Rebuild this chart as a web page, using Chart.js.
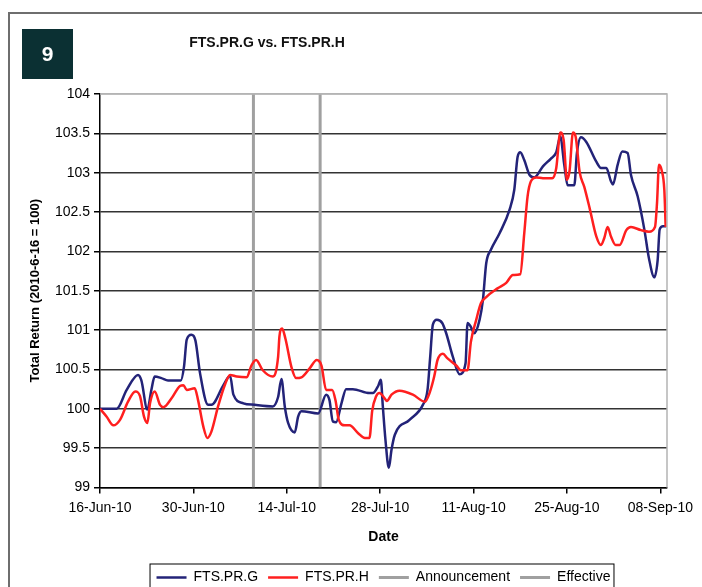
<!DOCTYPE html>
<html lang="en">
<head>
    <meta charset="UTF-8">
    <title>FTS.PR.G vs. FTS.PR.H</title>
    <style>
        * {
            margin: 0;
            padding: 0;
            box-sizing: border-box;
        }

        html, body {
            width: 702px;
            height: 587px;
            overflow: hidden;
            background: #ffffff;
        }

        .wrapper {
            position: relative;
            width: 702px;
            height: 600px;
        }
    </style>
</head>
<body>
    <div class="wrapper">
        <canvas id="chart" width="702" height="600"></canvas>
    </div>
    <script src="https://cdn.jsdelivr.net/npm/chart.js@4.4.1/dist/chart.umd.min.js"></script>
    <script>
        // x values are days since 16-Jun-10
        const startDate = new Date(2010, 5, 16);
        const monthNames = ["Jan", "Feb", "Mar", "Apr", "May", "Jun", "Jul", "Aug", "Sep", "Oct", "Nov", "Dec"];

        const gDays = [0, 2.5, 4.0, 5.7, 6.2, 7.1, 7.7, 8.2, 9.2, 10.2, 12.1, 12.6, 13.0, 13.7, 14.3, 15.0, 16.2, 16.7,
            18.5, 19.5, 20.0, 21.5, 23.2, 25.9, 26.7, 27.2, 27.7, 28.2, 29.2, 29.7, 30.2, 32.7, 33.9, 34.4, 34.9, 35.4,
            36.2, 36.9, 37.9, 40.4, 40.9, 41.7, 42.1, 42.4, 42.8, 43.3, 43.7, 44.2, 46.4, 48.4, 49.1, 49.5, 49.9, 50.5,
            51.3, 51.9, 52.9, 53.9, 54.8, 55.1, 55.6, 56.1, 56.9, 57.4, 57.9, 58.6, 59.9, 61.4, 62.1, 62.6, 63.0, 63.6,
            64.4, 65.1, 66.4, 67.6, 68.4, 69.0, 69.6, 70.1, 71.1, 71.5, 72.1, 72.9, 74.4, 75.1, 75.9, 76.6, 76.9, 77.6,
            78.3, 79.1, 79.6, 80.6, 81.6, 82.3, 83.1, 83.6, 83.9, 84.4, 84.9];
        const gReturns = [100.0, 100.0, 100.24, 100.43, 100.36, 99.99, 100.24, 100.41, 100.39, 100.36, 100.36, 100.54,
            100.88, 100.94, 100.87, 100.45, 100.05, 100.05, 100.30, 100.42, 100.18, 100.07, 100.05, 100.03, 100.15,
            100.38, 100.03, 99.82, 99.70, 99.90, 99.97, 99.94, 100.18, 100.11, 99.84, 99.83, 100.07, 100.25, 100.25,
            100.20, 100.20, 100.29, 100.37, 100.03, 99.60, 99.25, 99.48, 99.67, 99.86, 100.05, 100.24, 100.66, 101.07,
            101.13, 101.09, 100.96, 100.66, 100.44, 100.58, 101.09, 101.04, 100.96, 101.13, 101.38, 101.85, 102.02,
            102.23, 102.53, 102.78, 103.20, 103.26, 103.16, 102.97, 102.94, 103.08, 103.18, 103.26, 103.46, 103.10,
            102.84, 102.84, 103.25, 103.45, 103.39, 103.14, 103.06, 103.06, 102.89, 102.85, 103.10, 103.27, 103.25,
            102.97, 102.70, 102.28, 101.91, 101.67, 101.89, 102.28, 102.32, 102.32];

        const hDays = [0, 1.0, 2.0, 3.0, 4.2, 5.3, 6.0, 6.6, 7.1, 7.5, 8.2, 9.0, 9.5, 10.7, 12.0, 12.5, 13.0, 14.2, 14.7,
            15.5, 16.1, 16.7, 17.7, 18.7, 19.5, 20.5, 22.0, 22.7, 23.4, 24.4, 25.9, 26.7, 26.9, 27.3, 27.8, 28.7, 29.4,
            30.2, 31.4, 32.5, 33.2, 33.9, 34.8, 35.3, 35.8, 36.7, 37.4, 38.7, 39.7, 40.4, 40.8, 41.4, 41.9, 42.7, 43.0,
            43.7, 44.9, 46.9, 48.7, 49.4, 50.1, 50.6, 51.4, 52.1, 53.4, 54.1, 55.1, 55.6, 56.4, 57.1, 57.9, 59.6, 60.9,
            61.9, 63.0, 63.6, 64.1, 64.6, 65.4, 66.4, 67.8, 68.4, 69.0, 69.5, 70.0, 70.4, 70.9, 71.3, 71.9, 72.6, 73.4,
            74.4, 75.1, 75.6, 76.1, 76.6, 77.3, 77.9, 78.9, 79.6, 81.1, 82.3, 83.2, 83.5, 83.8, 84.2, 84.6, 84.8];
        const hReturns = [100.0, 99.90, 99.79, 99.86, 100.09, 100.22, 100.16, 99.90, 99.82, 100.07, 100.22, 100.05,
            100.02, 100.13, 100.29, 100.30, 100.24, 100.26, 100.11, 99.77, 99.63, 99.71, 100.03, 100.30, 100.43, 100.41,
            100.40, 100.55, 100.62, 100.49, 100.41, 100.66, 100.92, 101.02, 100.89, 100.53, 100.39, 100.40, 100.51,
            100.62, 100.55, 100.24, 100.24, 100.11, 99.86, 99.79, 99.79, 99.69, 99.63, 99.63, 99.97, 100.16, 100.20,
            100.13, 100.10, 100.18, 100.23, 100.18, 100.09, 100.20, 100.41, 100.62, 100.70, 100.64, 100.55, 100.49,
            100.49, 100.85, 101.13, 101.34, 101.42, 101.53, 101.60, 101.70, 101.71, 102.23, 102.70, 102.89, 102.94,
            102.93, 102.93, 103.06, 103.51, 103.42, 102.91, 103.03, 103.51, 103.46, 103.01, 102.82, 102.55, 102.19,
            102.08, 102.17, 102.31, 102.19, 102.08, 102.08, 102.27, 102.31, 102.27, 102.25, 102.31, 102.61, 103.10,
            103.03, 102.78, 102.31];

        const announcementDay = 23;   // 09-Jul-10
        const effectiveDay = 33;      // 19-Jul-10
        const yMin = 99;
        const yMax = 104;

        const toPoints = (xs, ys) => xs.map((x, i) => ({ x: x, y: ys[i] }));

        const formatDay = (d) => {
            const dt = new Date(startDate.getTime());
            dt.setDate(dt.getDate() + Math.round(d));
            const dd = String(dt.getDate()).padStart(2, "0");
            const yy = String(dt.getFullYear()).slice(2);
            return dd + "-" + monthNames[dt.getMonth()] + "-" + yy;
        };

        const pageDecor = {
            id: "pageDecor",
            beforeDraw(chart) {
                const ctx = chart.ctx;
                ctx.save();
                ctx.fillStyle = "#ffffff";
                ctx.fillRect(0, 0, chart.width, chart.height);
                // outer frame
                ctx.strokeStyle = "#6e6e6e";
                ctx.lineWidth = 2;
                ctx.strokeRect(9, 13, 800, 700);
                // number badge
                ctx.fillStyle = "#0b3033";
                ctx.fillRect(22, 29, 51, 50);
                ctx.fillStyle = "#ffffff";
                ctx.font = "bold 21px 'Liberation Sans', Arial, sans-serif";
                ctx.textAlign = "center";
                ctx.textBaseline = "middle";
                ctx.fillText("9", 47.5, 55);
                // title
                ctx.fillStyle = "#111111";
                ctx.font = "bold 14px 'Liberation Sans', Arial, sans-serif";
                ctx.fillText("FTS.PR.G vs. FTS.PR.H", 267, 43);
                ctx.restore();
            },
            afterDraw(chart) {
                const ctx = chart.ctx;
                const area = chart.chartArea;
                ctx.save();
                // plot area border, top and right
                ctx.strokeStyle = "#b4b4b4";
                ctx.lineWidth = 1.5;
                ctx.beginPath();
                ctx.moveTo(area.left, area.top);
                ctx.lineTo(area.right, area.top);
                ctx.lineTo(area.right, area.bottom);
                ctx.stroke();
                // legend box
                const boxes = chart.legend.legendHitBoxes;
                if (boxes && boxes.length) {
                    const left = Math.min(...boxes.map(b => b.left));
                    const right = Math.max(...boxes.map(b => b.left + b.width));
                    const top = boxes[0].top;
                    ctx.strokeStyle = "#000000";
                    ctx.lineWidth = 1;
                    ctx.strokeRect(left - 6.5, top - 6.5, right - left + 10, 34);
                }
                ctx.restore();
            }
        };

        const chart = new Chart(document.getElementById("chart"), {
            type: "line",
            plugins: [pageDecor],
            data: {
                datasets: [
                    {
                        label: "FTS.PR.G",
                        data: toPoints(gDays, gReturns),
                        borderColor: "#232378",
                        borderWidth: 2.5,
                        pointRadius: 0,
                        cubicInterpolationMode: "monotone",
                        order: 2
                    },
                    {
                        label: "FTS.PR.H",
                        data: toPoints(hDays, hReturns),
                        borderColor: "#ff1f1f",
                        borderWidth: 2.5,
                        pointRadius: 0,
                        cubicInterpolationMode: "monotone",
                        order: 1
                    },
                    {
                        label: "Announcement",
                        data: toPoints([announcementDay, announcementDay], [yMin, yMax]),
                        borderColor: "#a0a0a0",
                        borderWidth: 3,
                        pointRadius: 0,
                        order: 3
                    },
                    {
                        label: "Effective",
                        data: toPoints([effectiveDay, effectiveDay], [yMin, yMax]),
                        borderColor: "#a0a0a0",
                        borderWidth: 3,
                        pointRadius: 0,
                        order: 3
                    }
                ]
            },
            options: {
                responsive: false,
                animation: false,
                layout: {
                    padding: { top: 94, right: 35, bottom: 5.5, left: 0 }
                },
                scales: {
                    x: {
                        type: "linear",
                        min: 0,
                        max: 85,
                        afterFit: (scale) => { scale.height = 73; },
                        ticks: {
                            stepSize: 14,
                            includeBounds: false,
                            autoSkip: false,
                            maxRotation: 0,
                            padding: 6,
                            color: "#000000",
                            font: { family: "'Liberation Sans', Arial, sans-serif", size: 14 },
                            callback: (v) => formatDay(v)
                        },
                        grid: {
                            drawOnChartArea: false,
                            tickLength: 6,
                            tickColor: "#000000",
                            lineWidth: 1.5
                        },
                        border: { color: "#000000", width: 1.5 },
                        title: {
                            display: true,
                            text: "Date",
                            color: "#000000",
                            font: { family: "'Liberation Sans', Arial, sans-serif", size: 14, weight: "bold" },
                            padding: { top: 0, bottom: 15 }
                        }
                    },
                    y: {
                        min: yMin,
                        max: yMax,
                        afterFit: (scale) => { scale.width = 100; },
                        ticks: {
                            stepSize: 0.5,
                            padding: 4,
                            color: "#000000",
                            font: { family: "'Liberation Sans', Arial, sans-serif", size: 14 },
                            callback: (v) => String(Math.round(v * 10) / 10)
                        },
                        grid: {
                            color: (c) => (c.tick && c.tick.value === yMax ? "#b4b4b4" : "#333333"),
                            lineWidth: 1.5,
                            tickLength: 6,
                            tickColor: "#000000"
                        },
                        border: { color: "#000000", width: 1.5 },
                        title: {
                            display: true,
                            text: "Total Return (2010-6-16 = 100)",
                            color: "#000000",
                            font: { family: "'Liberation Sans', Arial, sans-serif", size: 13, weight: "bold" },
                            padding: { top: 28, bottom: 0 }
                        }
                    }
                },
                plugins: {
                    tooltip: { enabled: false },
                    legend: {
                        position: "bottom",
                        fullSize: false,
                        labels: {
                            usePointStyle: true,
                            pointStyle: "line",
                            pointStyleWidth: 30,
                            padding: 10,
                            color: "#000000",
                            font: { family: "'Liberation Sans', Arial, sans-serif", size: 14 },
                            sort: (a, b) => a.datasetIndex - b.datasetIndex
                        }
                    }
                }
            }
        });
    </script>
</body>
</html>
